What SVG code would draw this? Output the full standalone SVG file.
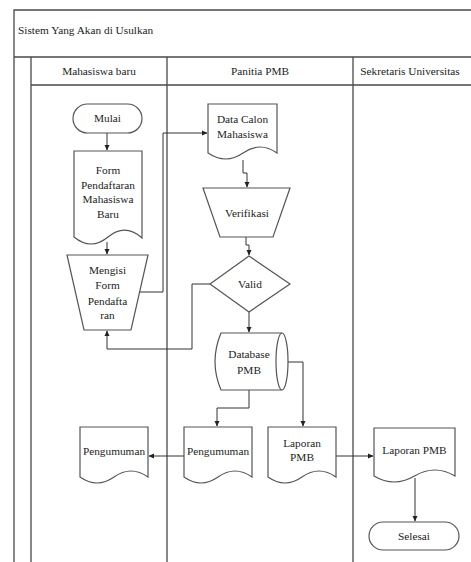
<svg xmlns="http://www.w3.org/2000/svg" width="471" height="562" viewBox="0 0 471 562">
<style>
.ln{fill:none;stroke:#4a4a4a;stroke-width:1.3}
.sh{fill:#fff;stroke:#555;stroke-width:1.2}
.cn{fill:none;stroke:#333;stroke-width:1}
text{font-family:"Liberation Serif","Times New Roman",serif;font-size:11.3px;fill:#222;text-anchor:middle}
.tl{text-anchor:start}
</style>
<defs>
<marker id="ah" markerWidth="6" markerHeight="6" refX="5" refY="3" orient="auto" markerUnits="userSpaceOnUse">
<path d="M0,0.5 L5.5,3 L0,5.5 Z" fill="#222"/>
</marker>
</defs>
<rect width="471" height="562" fill="#fff"/>
<g id="pool">
<path class="ln" d="M14,562 V10 H471 M14,57 H471 M31,57 V562 M31,85 H471 M167,57 V562 M353,57 V562"/>
<text class="tl" x="18" y="34">Sistem Yang Akan di Usulkan</text>
<text x="99" y="75">Mahasiswa baru</text>
<text x="260" y="75">Panitia PMB</text>
<text x="410" y="75">Sekretaris Universitas</text>
</g>
<g id="connectors">
<path class="cn" d="M107,133 V150" marker-end="url(#ah)"/>
<path class="cn" d="M107,242 V254" marker-end="url(#ah)"/>
<path class="cn" d="M140,292 H163 V133 H207" marker-end="url(#ah)"/>
<path class="cn" d="M243,160 V173 H247 V187" marker-end="url(#ah)"/>
<path class="cn" d="M246,237 V245 H249 V255" marker-end="url(#ah)"/>
<path class="cn" d="M210,284 H192 V349 H107 V331" marker-end="url(#ah)"/>
<path class="cn" d="M249,312 V332" marker-end="url(#ah)"/>
<path class="cn" d="M249,390 V408 H217 V426" marker-end="url(#ah)"/>
<path class="cn" d="M288,362 H303 V426" marker-end="url(#ah)"/>
<path class="cn" d="M184,456 H149" marker-end="url(#ah)"/>
<path class="cn" d="M336,456 H373" marker-end="url(#ah)"/>
<path class="cn" d="M415,478 V521" marker-end="url(#ah)"/>
</g>
<g id="mulai">
<rect class="sh" x="73" y="104" width="69" height="29" rx="14.5"/>
<text x="107.5" y="122">Mulai</text>
</g>
<g id="form">
<path class="sh" d="M74,151 H142 V238 Q125,223 108,237 Q91,251 74,237 Z"/>
<text x="108" y="174">Form</text>
<text x="108" y="189">Pendaftaran</text>
<text x="108" y="203">Mahasiswa</text>
<text x="108" y="218">Baru</text>
</g>
<g id="mengisi">
<path class="sh" d="M67,255 H148 L131,330 H84 Z"/>
<text x="107.5" y="274">Mengisi</text>
<text x="107.5" y="289">Form</text>
<text x="107.5" y="305">Pendafta</text>
<text x="107.5" y="319">ran</text>
</g>
<g id="datacalon">
<path class="sh" d="M208,104 H277 V153 Q260,141 243,153 Q226,165 208,153 Z"/>
<text x="242.5" y="123">Data Calon</text>
<text x="242.5" y="138">Mahasiswa</text>
</g>
<g id="verifikasi">
<path class="sh" d="M203,188 H290 L273,237 H220 Z"/>
<text x="247" y="217">Verifikasi</text>
</g>
<g id="valid">
<path class="sh" d="M249,256 L290,284 L249,312 L210,284 Z"/>
<text x="250" y="288">Valid</text>
</g>
<g id="database">
<path class="sh" d="M221,333 H282 A6,28.5 0 0 1 282,390 H221 Q209,361.5 221,333 Z"/>
<path class="sh" d="M282,333 A6,28.5 0 0 0 282,390"/>
<text x="249" y="358">Database</text>
<text x="249" y="374">PMB</text>
</g>
<g id="pengumuman-panitia">
<path class="sh" d="M184,427 H252 V477 Q235,465 218,477 Q201,489 184,477 Z"/>
<text x="218" y="455">Pengumuman</text>
</g>
<g id="laporan-panitia">
<path class="sh" d="M268,427 H336 V477 Q319,465 302,477 Q285,489 268,477 Z"/>
<text x="302" y="447">Laporan</text>
<text x="302" y="461">PMB</text>
</g>
<g id="pengumuman-mhs">
<path class="sh" d="M80,427 H148 V477 Q131,465 114,477 Q97,489 80,477 Z"/>
<text x="114" y="455">Pengumuman</text>
</g>
<g id="laporan-sek">
<path class="sh" d="M374,428 H455 V476 Q435,464 414.5,476 Q394,488 374,476 Z"/>
<text x="414.5" y="454">Laporan PMB</text>
</g>
<g id="selesai">
<rect class="sh" x="369" y="522" width="90" height="28" rx="14"/>
<text x="414" y="540">Selesai</text>
</g>
</svg>
